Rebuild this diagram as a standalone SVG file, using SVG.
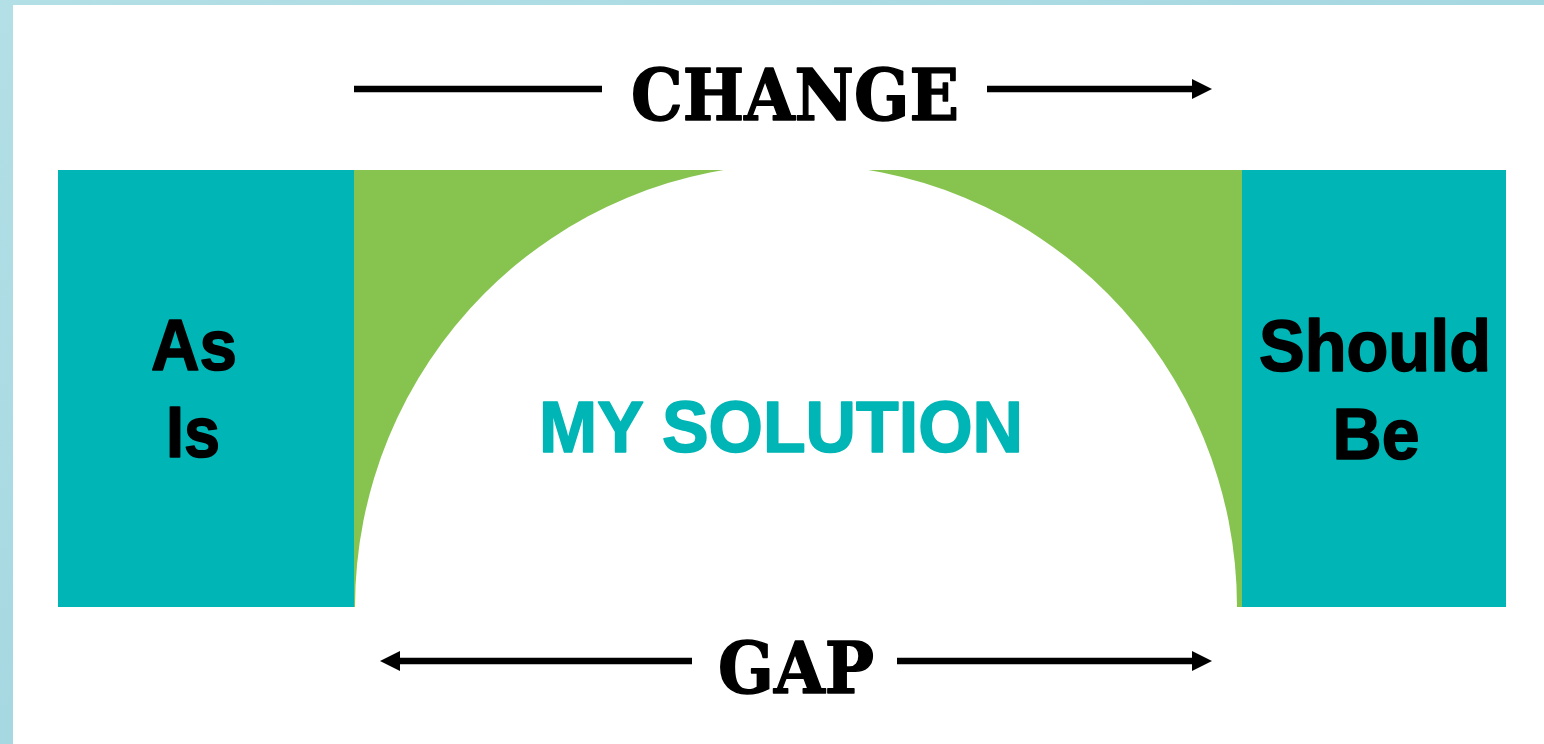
<svg xmlns="http://www.w3.org/2000/svg" width="1544" height="744" viewBox="0 0 1544 744">
  <defs>
    <linearGradient id="frameGrad" x1="0" y1="0" x2="1" y2="1">
      <stop offset="0" stop-color="#b3dfe6"/>
      <stop offset="0.5" stop-color="#a6d8e1"/>
      <stop offset="1" stop-color="#8fcbd8"/>
    </linearGradient>
    <marker id="head" viewBox="0 0 20 20" refX="0" refY="10" markerWidth="20" markerHeight="20" markerUnits="userSpaceOnUse" orient="auto-start-reverse">
      <path d="M0,0 L20,10 L0,20 Z" fill="#000"/>
    </marker>
    <clipPath id="bandClip">
      <rect x="354" y="170" width="888" height="437"/>
    </clipPath>
  </defs>
  <style>
    .state { fill: #00b5b5; }
    .gapfill { fill: #86c34f; }
    .label { font-family: "Liberation Sans", Arial, sans-serif; font-weight: bold; font-size: 72px; text-anchor: middle; stroke-width: 1.6; stroke-linejoin: round; }
    .slab { font-family: "DejaVu Serif", serif; font-weight: bold; font-size: 71px; text-anchor: middle; fill: #000; stroke: #000; stroke-width: 1.5; stroke-linejoin: round; }
    .conn { stroke: #000; stroke-width: 6.5; fill: none; }
  </style>

  <!-- page frame -->
  <rect x="0" y="0" width="1544" height="744" fill="url(#frameGrad)"/>
  <rect x="13" y="5" width="1531" height="739" fill="#ffffff"/>

  <!-- green band with the arch cut out -->
  <g id="solution">
    <g clip-path="url(#bandClip)">
      <rect class="gapfill" x="354" y="170" width="888" height="437"/>
      <ellipse cx="796" cy="607" rx="441" ry="443" fill="#ffffff"/>
    </g>
    <text class="label" x="781" y="452" fill="#00b5b5" stroke="#00b5b5" textLength="484" lengthAdjust="spacingAndGlyphs">MY SOLUTION</text>
  </g>

  <g id="as-is">
    <rect class="state" x="58" y="170" width="296" height="437"/>
    <text class="label" x="194" y="370" fill="#000" stroke="#000" textLength="86" lengthAdjust="spacingAndGlyphs">As</text>
    <text class="label" x="193" y="457" fill="#000" stroke="#000" textLength="54" lengthAdjust="spacingAndGlyphs">Is</text>
  </g>

  <g id="should-be">
    <rect class="state" x="1242" y="170" width="264" height="437"/>
    <text class="label" x="1375" y="371" fill="#000" stroke="#000" textLength="232" lengthAdjust="spacingAndGlyphs">Should</text>
    <text class="label" x="1376" y="459" fill="#000" stroke="#000" textLength="87" lengthAdjust="spacingAndGlyphs">Be</text>
  </g>

  <g id="change">
    <text class="slab" x="795" y="120" textLength="328" lengthAdjust="spacingAndGlyphs">CHANGE</text>
  </g>

  <g id="gap">
    <text class="slab" x="796" y="693" textLength="156" lengthAdjust="spacingAndGlyphs">GAP</text>
  </g>

  <g id="connectors">
    <line class="conn" x1="354" y1="89" x2="602" y2="89"/>
    <line class="conn" x1="987" y1="89" x2="1192" y2="89" marker-end="url(#head)"/>
    <line class="conn" x1="400" y1="661" x2="692" y2="661" marker-start="url(#head)"/>
    <line class="conn" x1="897" y1="661" x2="1192" y2="661" marker-end="url(#head)"/>
  </g>
</svg>
